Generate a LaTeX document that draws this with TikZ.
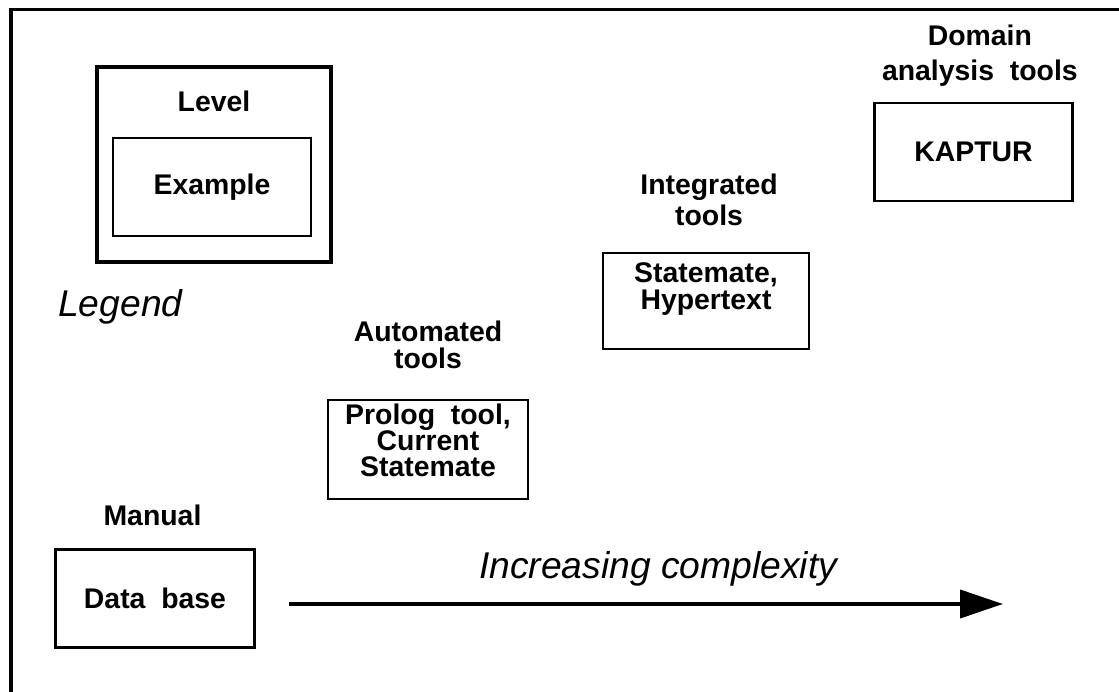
\documentclass[tikz,border=0pt]{standalone}
\usepackage{fontspec}
\setmainfont{Liberation Sans}
\usetikzlibrary{arrows.meta}
\newcommand{\tightlines}{\lineskiplimit=-50pt\relax}

\begin{document}
\begin{tikzpicture}[
  block/.style={rectangle, draw, line width=1.8pt, minimum width=4.975cm, minimum height=2.45cm, inner sep=0pt, align=center, font=\bfseries\fontsize{20.2}{24.9}\selectfont\tightlines},
  title/.style={align=center, inner sep=0pt, font=\bfseries\fontsize{20.2}{24.9}\selectfont\tightlines},
  note/.style={inner sep=0pt, font=\itshape\fontsize{26.5}{32}\selectfont},
  node distance=2.5cm
]
\useasboundingbox (0,0) rectangle (27.975,-17.3);
\draw[line width=2.8pt] (0.275,-17.3) |- (27.975,-0.2375);

\node[block, line width=2.8pt, minimum width=5.85cm, minimum height=4.875cm] (legendbox) at (5.35,-4.1125) {};
\node[block, line width=1.6pt, minimum width=4.95cm] (example) at (5.3,-4.675) {Example};
\node[title, above of=example, node distance=2.13cm, xshift=0.05cm] (level) {Level};
\node[note, anchor=base west] (legend) at (1.45,-7.9175) {Legend};

\node[block] (database) at (3.875,-14.9625) {Data\ \ base};
\node[title, above of=database, node distance=2.09cm, xshift=-0.0625cm] (manual) {Manual};

\node[block, minimum width=5cm, minimum height=2.475cm, text depth=0.45cm, font=\bfseries\fontsize{20.2}{18.35}\selectfont\tightlines] (prolog) at (10.7,-11.2375) {Prolog\ \ tool,\\Current\\Statemate};
\node[title, above of=prolog, node distance=2.62cm, font=\bfseries\fontsize{20.2}{19}\selectfont\tightlines] (automated) {Automated\\tools};

\node[block, minimum width=5.15cm, minimum height=2.4cm, text depth=0.75cm, font=\bfseries\fontsize{20.2}{19.6}\selectfont\tightlines] (statemate) at (17.65,-7.525) {Statemate,\\Hypertext};
\node[title, above of=statemate, node distance=2.52cm, xshift=0.075cm, font=\bfseries\fontsize{20.2}{22.05}\selectfont\tightlines] (integrated) {Integrated\\tools};

\node[block, minimum width=4.95cm] (kaptur) at (24.3375,-3.8) {KAPTUR};
\node[title, above of=kaptur, node distance=2.42cm, xshift=0.16cm] (domain) {Domain\\analysis\ \ tools};

\coordinate (cstart) at (7.225,-15.1);
\coordinate (cend) at (25.075,-15.1);
\draw[line width=2.8pt, -{Triangle[length=1.075cm,width=0.7cm]}] (cstart) -- node[note, pos=0.517, anchor=base, yshift=0.64cm] (complexity) {Increasing complexity} (cend);
\end{tikzpicture}
\end{document}
